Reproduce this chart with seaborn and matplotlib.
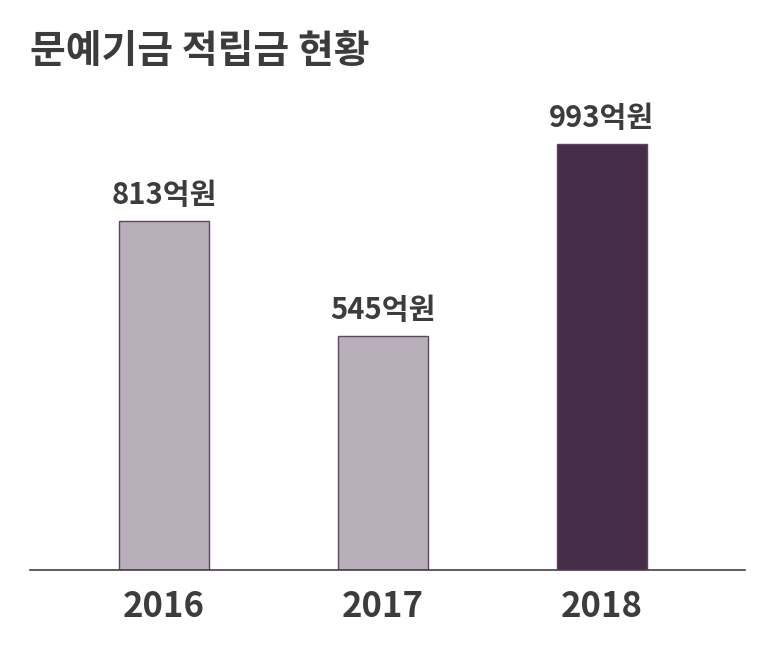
import matplotlib
matplotlib.use("Agg")
import matplotlib.pyplot as plt
import seaborn as sns
import pandas as pd

# data
years = ["2016", "2017", "2018"]
amounts = [813, 545, 993]  # 억원
value_labels = [f"{v}억원" for v in amounts]

LIGHT = "#b9adbc"
DARK = "#4a2a4c"
EDGE = "#5b4660"
TEXT = "#3c3c3c"

sns.set_theme(style="white")
plt.rcParams['font.family'] = ['Noto Sans CJK KR', 'DejaVu Sans']

df = pd.DataFrame({"year": years, "amount": amounts})

fig = plt.figure(figsize=(7.71, 6.45), dpi=100)
ax = fig.add_axes([30 / 771, 1 - 570 / 645, 715 / 771, 470 / 645])

palette = [LIGHT, LIGHT, DARK]
sns.barplot(data=df, x="year", y="amount", hue="year", palette=palette,
            legend=False, width=0.41, edgecolor=EDGE, linewidth=1, ax=ax)

for container, lab in zip(ax.containers, value_labels):
    ax.bar_label(container, labels=[lab], padding=8, fontsize=21,
                 fontweight="bold", color=TEXT)

ax.set_xlim(-0.612, 2.653)
ax.set_ylim(0, 1096)
ax.set_xlabel("")
ax.set_ylabel("")
ax.set_yticks([])
ax.tick_params(axis="x", length=0, pad=14)
for lab in ax.get_xticklabels():
    lab.set_fontsize(25)
    lab.set_fontweight("bold")
    lab.set_color(TEXT)

for side in ["top", "left", "right"]:
    ax.spines[side].set_visible(False)
ax.spines["bottom"].set_color("#4a3a4c")
ax.spines["bottom"].set_linewidth(1.2)

fig.text(30 / 771, 1 - 52 / 645, "문예기금 적립금 현황", fontsize=28,
         fontweight="heavy", color=TEXT, va="center", ha="left")

fig.savefig("out.png", dpi=100)
plt.close(fig)
